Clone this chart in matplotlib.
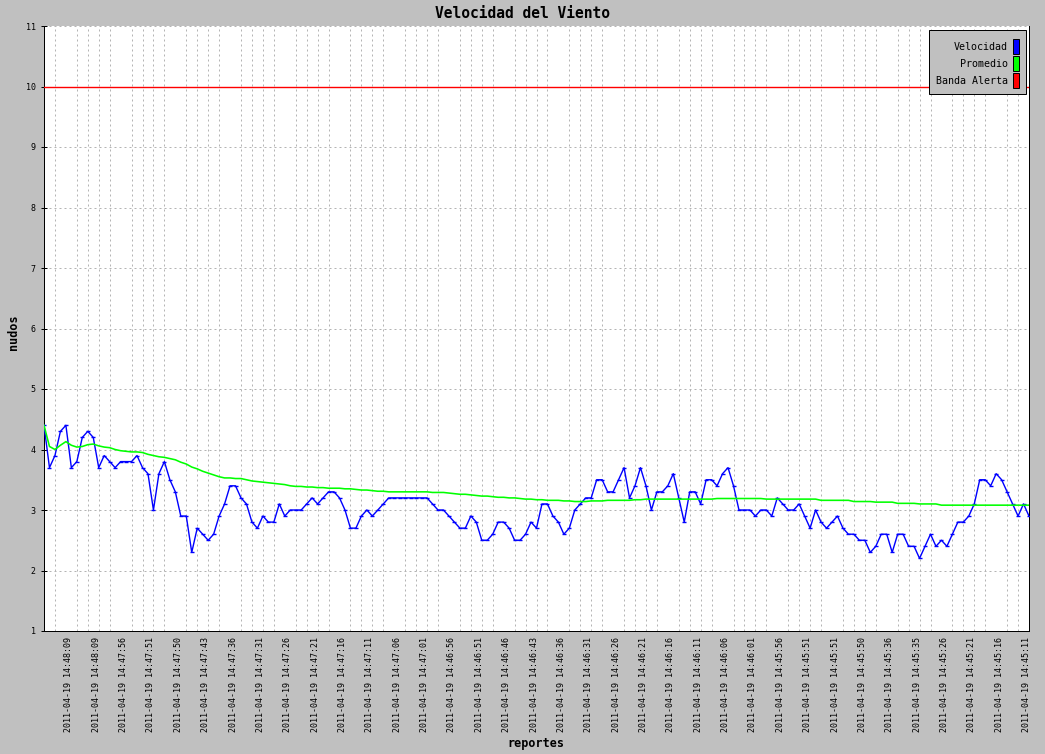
import matplotlib
matplotlib.use("Agg")
import matplotlib.pyplot as plt
from matplotlib.patches import Rectangle
from matplotlib.transforms import ScaledTranslation

# velocidad del viento (nudos), un valor por reporte
velocidad = [
    4.4, 3.7, 3.9, 4.3, 4.4, 3.7, 3.8, 4.2, 4.3, 4.2,
    3.7, 3.9, 3.8, 3.7, 3.8, 3.8, 3.8, 3.9, 3.7, 3.6,
    3.0, 3.6, 3.8, 3.5, 3.3, 2.9, 2.9, 2.3, 2.7, 2.6,
    2.5, 2.6, 2.9, 3.1, 3.4, 3.4, 3.2, 3.1, 2.8, 2.7,
    2.9, 2.8, 2.8, 3.1, 2.9, 3.0, 3.0, 3.0, 3.1, 3.2,
    3.1, 3.2, 3.3, 3.3, 3.2, 3.0, 2.7, 2.7, 2.9, 3.0,
    2.9, 3.0, 3.1, 3.2, 3.2, 3.2, 3.2, 3.2, 3.2, 3.2,
    3.2, 3.1, 3.0, 3.0, 2.9, 2.8, 2.7, 2.7, 2.9, 2.8,
    2.5, 2.5, 2.6, 2.8, 2.8, 2.7, 2.5, 2.5, 2.6, 2.8,
    2.7, 3.1, 3.1, 2.9, 2.8, 2.6, 2.7, 3.0, 3.1, 3.2,
    3.2, 3.5, 3.5, 3.3, 3.3, 3.5, 3.7, 3.2, 3.4, 3.7,
    3.4, 3.0, 3.3, 3.3, 3.4, 3.6, 3.2, 2.8, 3.3, 3.3,
    3.1, 3.5, 3.5, 3.4, 3.6, 3.7, 3.4, 3.0, 3.0, 3.0,
    2.9, 3.0, 3.0, 2.9, 3.2, 3.1, 3.0, 3.0, 3.1, 2.9,
    2.7, 3.0, 2.8, 2.7, 2.8, 2.9, 2.7, 2.6, 2.6, 2.5,
    2.5, 2.3, 2.4, 2.6, 2.6, 2.3, 2.6, 2.6, 2.4, 2.4,
    2.2, 2.4, 2.6, 2.4, 2.5, 2.4, 2.6, 2.8, 2.8, 2.9,
    3.1, 3.5, 3.5, 3.4, 3.6, 3.5, 3.3, 3.1, 2.9, 3.1, 2.9,
]

# promedio
promedio = [
    4.40, 4.05, 4.00, 4.07, 4.13, 4.07, 4.04, 4.05, 4.08, 4.09,
    4.06, 4.04, 4.03, 4.00, 3.98, 3.97, 3.96, 3.96, 3.95, 3.92,
    3.90, 3.88, 3.87, 3.85, 3.83, 3.79, 3.76, 3.71, 3.68, 3.64,
    3.61, 3.58, 3.55, 3.53, 3.53, 3.52, 3.52, 3.50, 3.48, 3.47,
    3.46, 3.45, 3.44, 3.43, 3.42, 3.40, 3.39, 3.39, 3.38, 3.38,
    3.37, 3.37, 3.36, 3.36, 3.36, 3.35, 3.35, 3.34, 3.33, 3.33,
    3.32, 3.31, 3.31, 3.30, 3.30, 3.30, 3.30, 3.30, 3.30, 3.30,
    3.30, 3.29, 3.29, 3.29, 3.28, 3.27, 3.26, 3.26, 3.25, 3.24,
    3.23, 3.23, 3.22, 3.21, 3.21, 3.20, 3.20, 3.19, 3.18, 3.18,
    3.17, 3.17, 3.16, 3.16, 3.16, 3.15, 3.15, 3.14, 3.14, 3.14,
    3.15, 3.15, 3.15, 3.16, 3.16, 3.16, 3.16, 3.16, 3.17, 3.17,
    3.18, 3.18, 3.18, 3.18, 3.18, 3.18, 3.18, 3.18, 3.18, 3.18,
    3.18, 3.18, 3.18, 3.19, 3.19, 3.19, 3.19, 3.19, 3.19, 3.19,
    3.19, 3.19, 3.18, 3.18, 3.18, 3.18, 3.18, 3.18, 3.18, 3.18,
    3.18, 3.18, 3.16, 3.16, 3.16, 3.16, 3.16, 3.16, 3.14, 3.14,
    3.14, 3.14, 3.13, 3.13, 3.13, 3.13, 3.11, 3.11, 3.11, 3.11,
    3.10, 3.10, 3.10, 3.10, 3.08, 3.08, 3.08, 3.08, 3.08, 3.08,
    3.08, 3.08, 3.08, 3.08, 3.08, 3.08, 3.08, 3.08, 3.08, 3.08, 3.08,
]

banda_alerta = 10

fecha = "2011-04-19"
horas = [
    "14:48:09", "14:48:09", "14:47:56", "14:47:51", "14:47:50", "14:47:43",
    "14:47:36", "14:47:31", "14:47:26", "14:47:21", "14:47:16", "14:47:11",
    "14:47:06", "14:47:01", "14:46:56", "14:46:51", "14:46:46", "14:46:43",
    "14:46:36", "14:46:31", "14:46:26", "14:46:21", "14:46:16", "14:46:11",
    "14:46:06", "14:46:01", "14:45:56", "14:45:51", "14:45:51", "14:45:50",
    "14:45:36", "14:45:35", "14:45:26", "14:45:21", "14:45:16", "14:45:11",
]
etiquetas = [fecha + " " + h for h in horas]

leyenda = ["Velocidad", "Promedio", "Banda Alerta"]
colores = ["#0000ff", "#00ff00", "#ff0000"]

plt.rcParams["font.family"] = "DejaVu Sans Mono"

W, H = 1045, 754
PX = 0.72  # 1 pixel en puntos a 100 dpi

fig = plt.figure(figsize=(W / 100, H / 100), dpi=100, facecolor="#c0c0c0")
ax = fig.add_axes([44 / W, 1 - 631 / H, (1029 - 44) / W, (631 - 26) / H])
ax.set_facecolor("white")

x = list(range(len(velocidad)))
ax.axhline(banda_alerta, color=colores[2], lw=1.4 * PX, zorder=3)
ax.plot(x, velocidad, color=colores[0], lw=1.4 * PX, marker="_", ms=3.5,
        mew=1.4 * PX, zorder=4)
ax.plot(x, promedio, color=colores[1], lw=1.6 * PX, zorder=5)

ax.set_xlim(0, len(velocidad) - 1)
ax.set_ylim(1, 11)
ax.set_yticks(range(1, 12))

# una etiqueta cada 5 reportes
pos_etiquetas = list(range(4, len(velocidad), 5))[:len(etiquetas)]
ax.set_xticks(pos_etiquetas)
ax.set_xticklabels(etiquetas, rotation=90, fontsize=6, va="top", ha="center")
ax.set_xticks(range(0, len(velocidad), 2), minor=True)
ax.tick_params(axis="x", which="both", length=0, pad=4.3)
ax.tick_params(axis="y", direction="inout", length=5, width=PX, pad=3.5,
               labelsize=6)
desplazo = ScaledTranslation(3 / 100, 0, fig.dpi_scale_trans)
for lbl in ax.get_xticklabels():
    lbl.set_transform(lbl.get_transform() + desplazo)

ax.grid(axis="y", which="major", color="#b4b4b4", lw=PX, ls=(0, (2, 3)))
ax.grid(axis="x", which="minor", color="#b4b4b4", lw=PX, ls=(0, (2, 3)))
ax.set_axisbelow(True)

for lado in ["left", "bottom", "right"]:
    ax.spines[lado].set_color("black")
    ax.spines[lado].set_linewidth(PX)
ax.spines["top"].set_visible(False)

fig.text(0.5, 1 - 13 / H, "Velocidad del Viento", ha="center", va="center",
         fontsize=10.5, fontweight="bold")
fig.text(14 / W, 1 - 332 / H, "nudos", rotation=90, ha="center", va="center",
         fontsize=8.5, fontweight="bold")
fig.text(536 / W, 1 - 743 / H, "reportes", ha="center", va="center",
         fontsize=8.5, fontweight="bold")

# leyenda dibujada a mano, texto alineado a la derecha
fig.add_artist(Rectangle((929 / W, 1 - 94 / H), 97 / W, 64 / H,
                         transform=fig.transFigure, facecolor="#c0c0c0",
                         edgecolor="black", lw=PX, zorder=10))
for k, (nombre, col) in enumerate(zip(leyenda, colores)):
    yc = 47 + 17 * k
    fig.text(1008 / W, 1 - yc / H, nombre, ha="right", va="center",
             fontsize=7.2, zorder=11)
    fig.add_artist(Rectangle((1013 / W, 1 - (yc + 7) / H), 6 / W, 15 / H,
                             transform=fig.transFigure, facecolor=col,
                             edgecolor="black", lw=PX, zorder=11))

fig.savefig("out.png", dpi=100, facecolor=fig.get_facecolor())
